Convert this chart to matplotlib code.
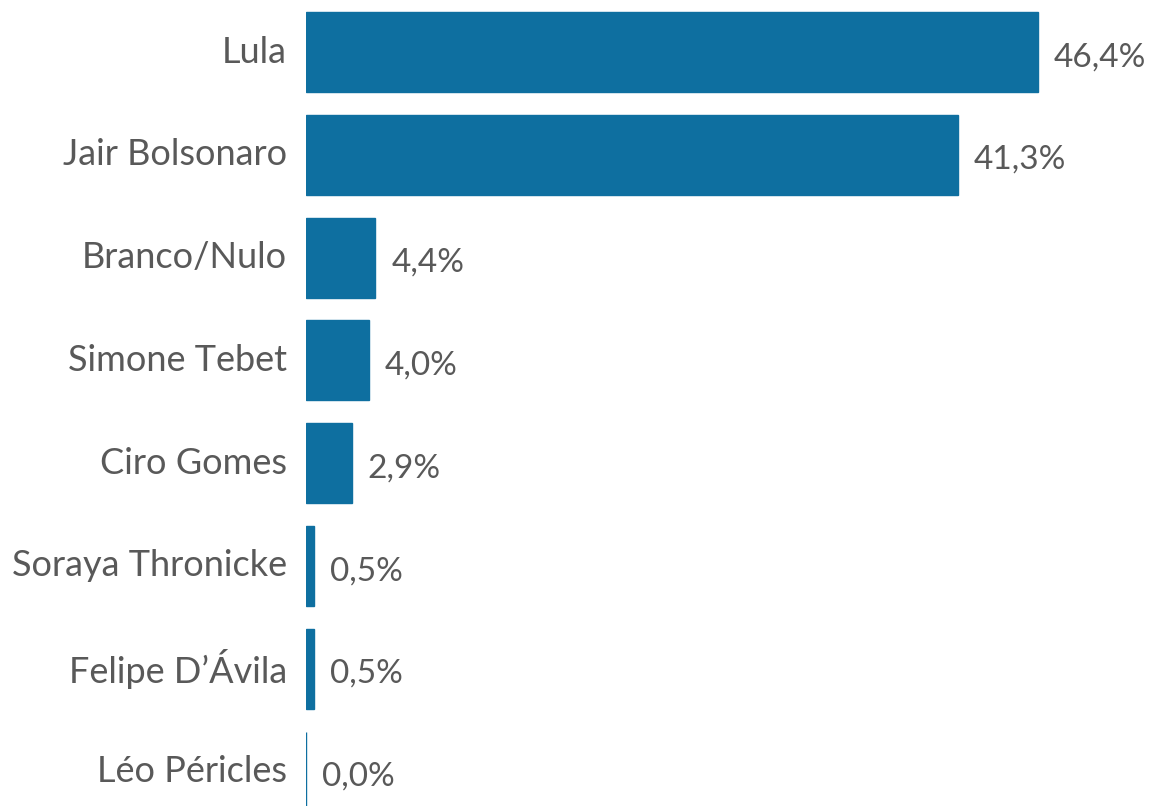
import matplotlib.pyplot as plt

candidatos = ['Lula', 'Jair Bolsonaro', 'Branco/Nulo', 'Simone Tebet', 'Ciro Gomes',
              'Soraya Thronicke', 'Felipe D\u2019\u00c1vila', 'L\u00e9o P\u00e9ricles']
votos = [46.4, 41.3, 4.4, 4.0, 2.9, 0.5, 0.5, 0.0]
rotulos = ['46,4%', '41,3%', '4,4%', '4,0%', '2,9%', '0,5%', '0,5%', '0,0%']

cor = '#0E6FA0'
cinza = '#595959'
plt.rcParams['font.family'] = ['Lato', 'DejaVu Sans']

fig = plt.figure(figsize=(11.52, 8.06), dpi=100)
ax = fig.add_axes([306 / 1152, 0, 846 / 1152, 1])

pos = range(len(candidatos))
ax.barh(pos, votos, height=0.778, color=cor, edgecolor=cor, linewidth=1)

# rótulos de valor
for i, (v, r) in enumerate(zip(votos, rotulos)):
    ax.text(v + 1.0, i + 0.05, r, va='center', ha='left', fontsize=24, color=cinza)

# rótulos das categorias
for i, c in enumerate(candidatos):
    ax.text(-1.2, i, c, va='center', ha='right', fontsize=26, color=cinza)

ax.set_xlim(0, 846 / 15.78)
ax.set_ylim(7.335, -0.506)
ax.axis('off')

fig.savefig('out.png', dpi=100)
